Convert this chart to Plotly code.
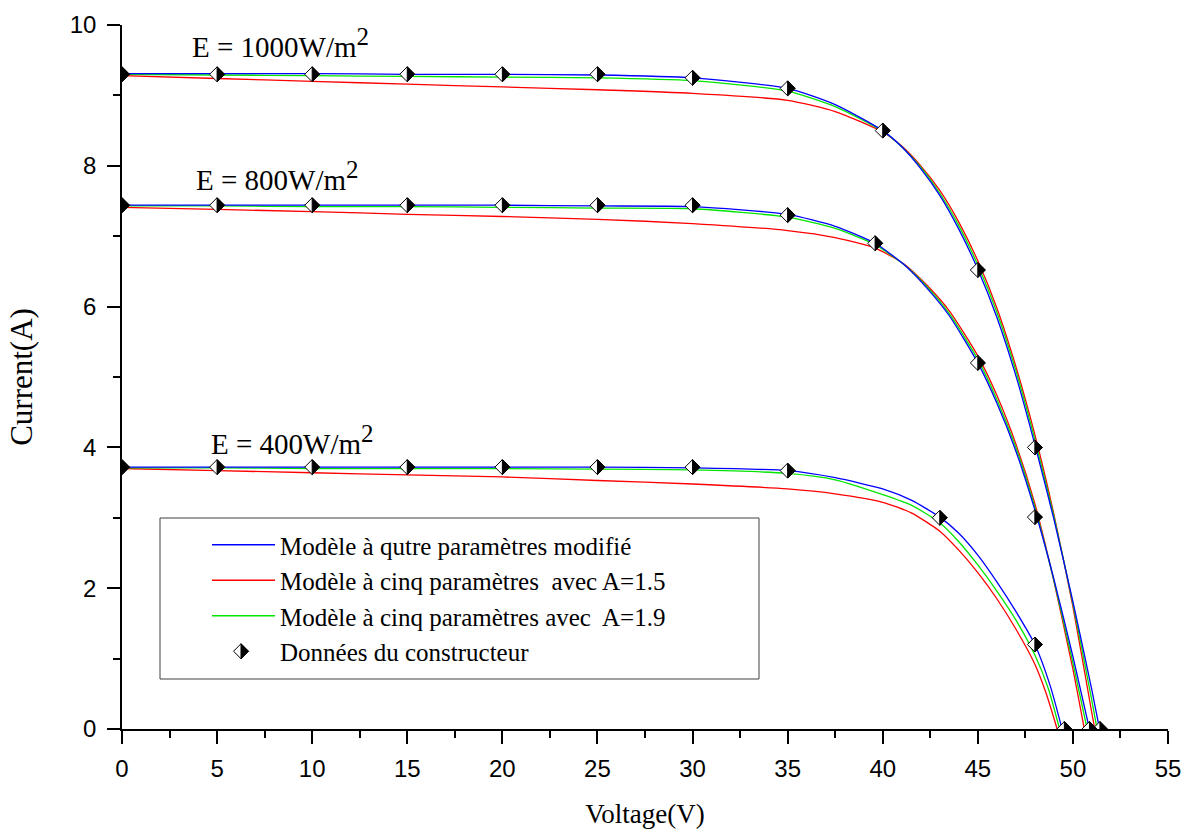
import math
import plotly.graph_objects as go

# ---------------- I-V curves (voltage in V, current in A) ----------------
# E = 1000 W/m2
V_1000_MOD = [0, 5, 10, 15, 20, 25, 30, 35, 37.5, 40, 41, 42, 43, 44, 45, 46, 47, 48, 49, 50, 51, 51.4]
I_1000_MOD = [9.31, 9.31, 9.31, 9.30, 9.30, 9.29, 9.25, 9.10, 8.87, 8.50, 8.27, 7.96, 7.58, 7.10, 6.53, 5.85, 5.02, 4.04, 2.98, 1.81, 0.55, 0.0]
V_1000_A15 = [0, 5, 10, 15, 20, 25, 30, 35, 37.5, 40, 41, 42, 43, 44, 45, 46, 47, 48, 49, 50, 51, 51.15]
I_1000_A15 = [9.28, 9.24, 9.20, 9.16, 9.12, 9.08, 9.03, 8.93, 8.77, 8.48, 8.28, 8.00, 7.65, 7.20, 6.65, 5.98, 5.15, 4.18, 3.05, 1.74, 0.22, 0.0]
V_1000_A19 = [0, 5, 10, 15, 20, 25, 30, 35, 37.5, 40, 41, 42, 43, 44, 45, 46, 47, 48, 49, 50, 51, 51.27]
I_1000_A19 = [9.30, 9.29, 9.28, 9.27, 9.26, 9.25, 9.21, 9.06, 8.84, 8.49, 8.27, 7.98, 7.61, 7.15, 6.59, 5.92, 5.09, 4.11, 3.02, 1.78, 0.40, 0.0]

# E = 800 W/m2
V_800_MOD = [0, 5, 10, 15, 20, 25, 30, 35, 37.5, 39.6, 41.1, 42.3, 43.5, 45, 46, 47, 48, 49, 50, 50.87]
I_800_MOD = [7.44, 7.44, 7.44, 7.44, 7.44, 7.43, 7.42, 7.31, 7.14, 6.90, 6.60, 6.27, 5.87, 5.20, 4.63, 3.95, 3.11, 2.13, 1.03, 0.0]
V_800_A15 = [0, 5, 10, 15, 20, 25, 30, 35, 37.5, 39.6, 41.1, 42.3, 43.5, 45, 46, 47, 48, 49, 50, 50.6]
I_800_A15 = [7.41, 7.38, 7.35, 7.31, 7.28, 7.24, 7.18, 7.08, 6.98, 6.83, 6.61, 6.31, 5.94, 5.30, 4.74, 4.05, 3.20, 2.10, 0.85, 0.0]
V_800_A19 = [0, 5, 10, 15, 20, 25, 30, 35, 37.5, 39.6, 41.1, 42.3, 43.5, 45, 46, 47, 48, 49, 50, 50.75]
I_800_A19 = [7.43, 7.43, 7.42, 7.42, 7.41, 7.40, 7.39, 7.27, 7.11, 6.88, 6.60, 6.29, 5.90, 5.25, 4.68, 4.00, 3.15, 2.11, 0.94, 0.0]

# E = 400 W/m2
V_400_MOD = [0, 5, 10, 15, 20, 25, 30, 35, 37.5, 40, 41.5, 43, 44, 45, 46, 47, 48, 48.8, 49.43]
I_400_MOD = [3.72, 3.72, 3.72, 3.72, 3.72, 3.72, 3.71, 3.67, 3.57, 3.41, 3.25, 3.01, 2.78, 2.47, 2.09, 1.67, 1.20, 0.62, 0.0]
V_400_A15 = [0, 5, 10, 15, 20, 25, 30, 35, 37.5, 40, 41.5, 43, 44, 45, 46, 47, 48, 48.6, 49.17]
I_400_A15 = [3.70, 3.67, 3.64, 3.61, 3.58, 3.53, 3.48, 3.41, 3.34, 3.22, 3.07, 2.81, 2.54, 2.22, 1.85, 1.42, 0.92, 0.50, 0.0]
V_400_A19 = [0, 5, 10, 15, 20, 25, 30, 35, 37.5, 40, 41.5, 43, 44, 45, 46, 47, 48, 48.7, 49.3]
I_400_A19 = [3.71, 3.71, 3.70, 3.70, 3.70, 3.69, 3.68, 3.63, 3.54, 3.33, 3.18, 2.93, 2.66, 2.33, 1.96, 1.55, 1.05, 0.58, 0.0]

# Manufacturer data points
V_DATA_1000 = [0, 5, 10, 15, 20, 25, 30, 35, 40, 45, 48, 51.42]
I_DATA_1000 = [9.30, 9.30, 9.30, 9.30, 9.30, 9.30, 9.25, 9.10, 8.50, 6.52, 4.00, 0.0]
V_DATA_800 = [0, 5, 10, 15, 20, 25, 30, 35, 39.6, 45, 48, 50.87]
I_DATA_800 = [7.44, 7.44, 7.44, 7.44, 7.44, 7.44, 7.44, 7.30, 6.90, 5.20, 3.01, 0.0]
V_DATA_400 = [0, 5, 10, 15, 20, 25, 30, 35, 43, 48, 49.55]
I_DATA_400 = [3.72, 3.72, 3.72, 3.72, 3.72, 3.72, 3.72, 3.67, 3.00, 1.20, 0.0]

SERIES_NAMES = [
    "Modèle à qutre paramètres modifié",
    "Modèle à cinq paramètres  avec A=1.5",
    "Modèle à cinq paramètres avec  A=1.9",
    "Données du constructeur",
]
IRRADIANCE_LABELS = [
    "E = 1000W/m<sup><span style='font-size:25px'>2</span></sup>",
    "E = 800W/m<sup><span style='font-size:25px'>2</span></sup>",
    "E = 400W/m<sup><span style='font-size:25px'>2</span></sup>",
]

# ---------------- geometry & style ----------------
FIG_W, FIG_H = 1192, 829
M_L, M_R, M_T, M_B = 122, 24, 25, 100
PLOT_W = FIG_W - M_L - M_R
PLOT_H = FIG_H - M_T - M_B
X_RANGE = [0, 55]
Y_RANGE = [0, 10]

SERIF = "Liberation Serif, Times New Roman, serif"
SANS = "Liberation Sans, Arial, sans-serif"
BLUE, RED, GREEN = "#0000ff", "#ff0000", "#00e600"
LINE_W = 1.3

MS = 11.5                    # diamond marker size
RD = 0.65 * MS               # half diagonal of the diamond (px)
TRI_SIZE = 2 * RD / (1.2 * math.sqrt(2) * 0.75)   # rotated triangle-ne matching the right half
SHIFT_PX = RD / 3            # centroid offset of the right half
SHIFT_DATA = SHIFT_PX * (X_RANGE[1] - X_RANGE[0]) / PLOT_W

LEG_FONT = 25
LEG_ITEM_W = 63
LEG_LEFT_PX, LEG_TOP_PX = 207, 522
LEG_ROW_H = LEG_FONT * 1.3 + 3
BOX_PX = (160, 518, 759, 679)


def px_to_paper(xp, yp):
    return (xp - M_L) / PLOT_W, 1 - (yp - M_T) / PLOT_H


fig = go.Figure()

curves = [
    (V_1000_A15, I_1000_A15, RED, 1), (V_1000_A19, I_1000_A19, GREEN, 2), (V_1000_MOD, I_1000_MOD, BLUE, 0),
    (V_800_A15, I_800_A15, RED, 1), (V_800_A19, I_800_A19, GREEN, 2), (V_800_MOD, I_800_MOD, BLUE, 0),
    (V_400_A15, I_400_A15, RED, 1), (V_400_A19, I_400_A19, GREEN, 2), (V_400_MOD, I_400_MOD, BLUE, 0),
]
shown = set()
for v, i, color, k in curves:
    fig.add_trace(go.Scatter(
        x=v, y=i, mode="lines", name=SERIES_NAMES[k],
        line=dict(color=color, width=LINE_W, shape="spline", smoothing=0.6),
        legendgroup=str(k), showlegend=k not in shown, legendrank=k + 1,
        hoverinfo="skip",
    ))
    shown.add(k)

data_sets = [(V_DATA_1000, I_DATA_1000), (V_DATA_800, I_DATA_800), (V_DATA_400, I_DATA_400)]
# white diamonds
for v, i in data_sets:
    fig.add_trace(go.Scatter(
        x=v, y=i, mode="markers", showlegend=False, hoverinfo="skip",
        marker=dict(symbol="diamond", size=MS, color="white", line=dict(color="black", width=1)),
    ))
# black right halves (drawn on a copy of the x axis shifted by the triangle's centroid offset)
for n, (v, i) in enumerate(data_sets):
    fig.add_trace(go.Scatter(
        x=v, y=i, mode="markers", xaxis="x2", name=SERIES_NAMES[3],
        legendgroup="3", showlegend=(n == 0), legendrank=4, hoverinfo="skip",
        marker=dict(symbol="triangle-ne", angle=45, size=TRI_SIZE, color="black",
                    line=dict(color="black", width=1)),
    ))

# irradiance labels
LABEL_POS = [(3.6, 9.74), (3.8, 7.86), (4.6, 4.1)]
for text, (lx, ly) in zip(IRRADIANCE_LABELS, LABEL_POS):
    fig.add_annotation(x=lx, y=ly, xref="x", yref="y", text=text, showarrow=False,
                       xanchor="left", yanchor="middle",
                       font=dict(family=SERIF, size=29, color="black"))

# legend frame and the white part of the data-point legend symbol
bx0, by0 = px_to_paper(BOX_PX[0], BOX_PX[1])
bx1, by1 = px_to_paper(BOX_PX[2], BOX_PX[3])
icon_x_px = LEG_LEFT_PX + (LEG_ITEM_W + 10) / 2 - SHIFT_PX
icon_y_px = LEG_TOP_PX + 5 + 3.5 * LEG_ROW_H
ix, iy = px_to_paper(icon_x_px, icon_y_px)
shapes = [
    dict(type="rect", xref="paper", yref="paper", x0=bx0, y0=by1, x1=bx1, y1=by0,
         line=dict(color="#404040", width=1), fillcolor="rgba(0,0,0,0)", layer="above"),
    dict(type="path", xref="paper", yref="paper", xsizemode="pixel", ysizemode="pixel",
         xanchor=ix, yanchor=iy,
         path=f"M{-RD:.2f},0 L0,{RD:.2f} L{RD:.2f},0 L0,{-RD:.2f} Z",
         fillcolor="white", line=dict(color="black", width=1), layer="above"),
]

lgx, lgy = px_to_paper(LEG_LEFT_PX, LEG_TOP_PX)

axis_common = dict(
    showgrid=False, zeroline=False, showline=True, linecolor="black", linewidth=1.5,
    ticks="outside", ticklen=13, tickwidth=1.5, tickcolor="black",
    tickfont=dict(family=SANS, size=24, color="black"), automargin=False,
)

fig.update_layout(
    width=FIG_W, height=FIG_H,
    margin=dict(l=M_L, r=M_R, t=M_T, b=M_B, pad=0),
    paper_bgcolor="white", plot_bgcolor="white",
    xaxis=dict(range=X_RANGE, dtick=5, tick0=0, ticklabelstandoff=4,
               minor=dict(dtick=2.5, tick0=0, ticks="outside", ticklen=7, tickwidth=1.5, tickcolor="black"),
               title=dict(text="Voltage(V)", font=dict(family=SERIF, size=27, color="black"), standoff=27),
               **axis_common),
    xaxis2=dict(range=[X_RANGE[0] - SHIFT_DATA, X_RANGE[1] - SHIFT_DATA], overlaying="x",
                visible=False, showgrid=False, zeroline=False),
    yaxis=dict(range=Y_RANGE, dtick=2, tick0=0, ticklabelstandoff=6,
               minor=dict(dtick=1, tick0=0, ticks="outside", ticklen=7, tickwidth=1.5, tickcolor="black"),
               title=dict(text="Current(A)", font=dict(family=SERIF, size=31, color="black"), standoff=28),
               **axis_common),
    legend=dict(x=lgx, y=lgy, xanchor="left", yanchor="top", bgcolor="rgba(0,0,0,0)",
                borderwidth=0, itemwidth=LEG_ITEM_W, traceorder="normal",
                font=dict(family=SERIF, size=LEG_FONT, color="black")),
    shapes=shapes,
    showlegend=True,
)

fig.write_html("out.html")
